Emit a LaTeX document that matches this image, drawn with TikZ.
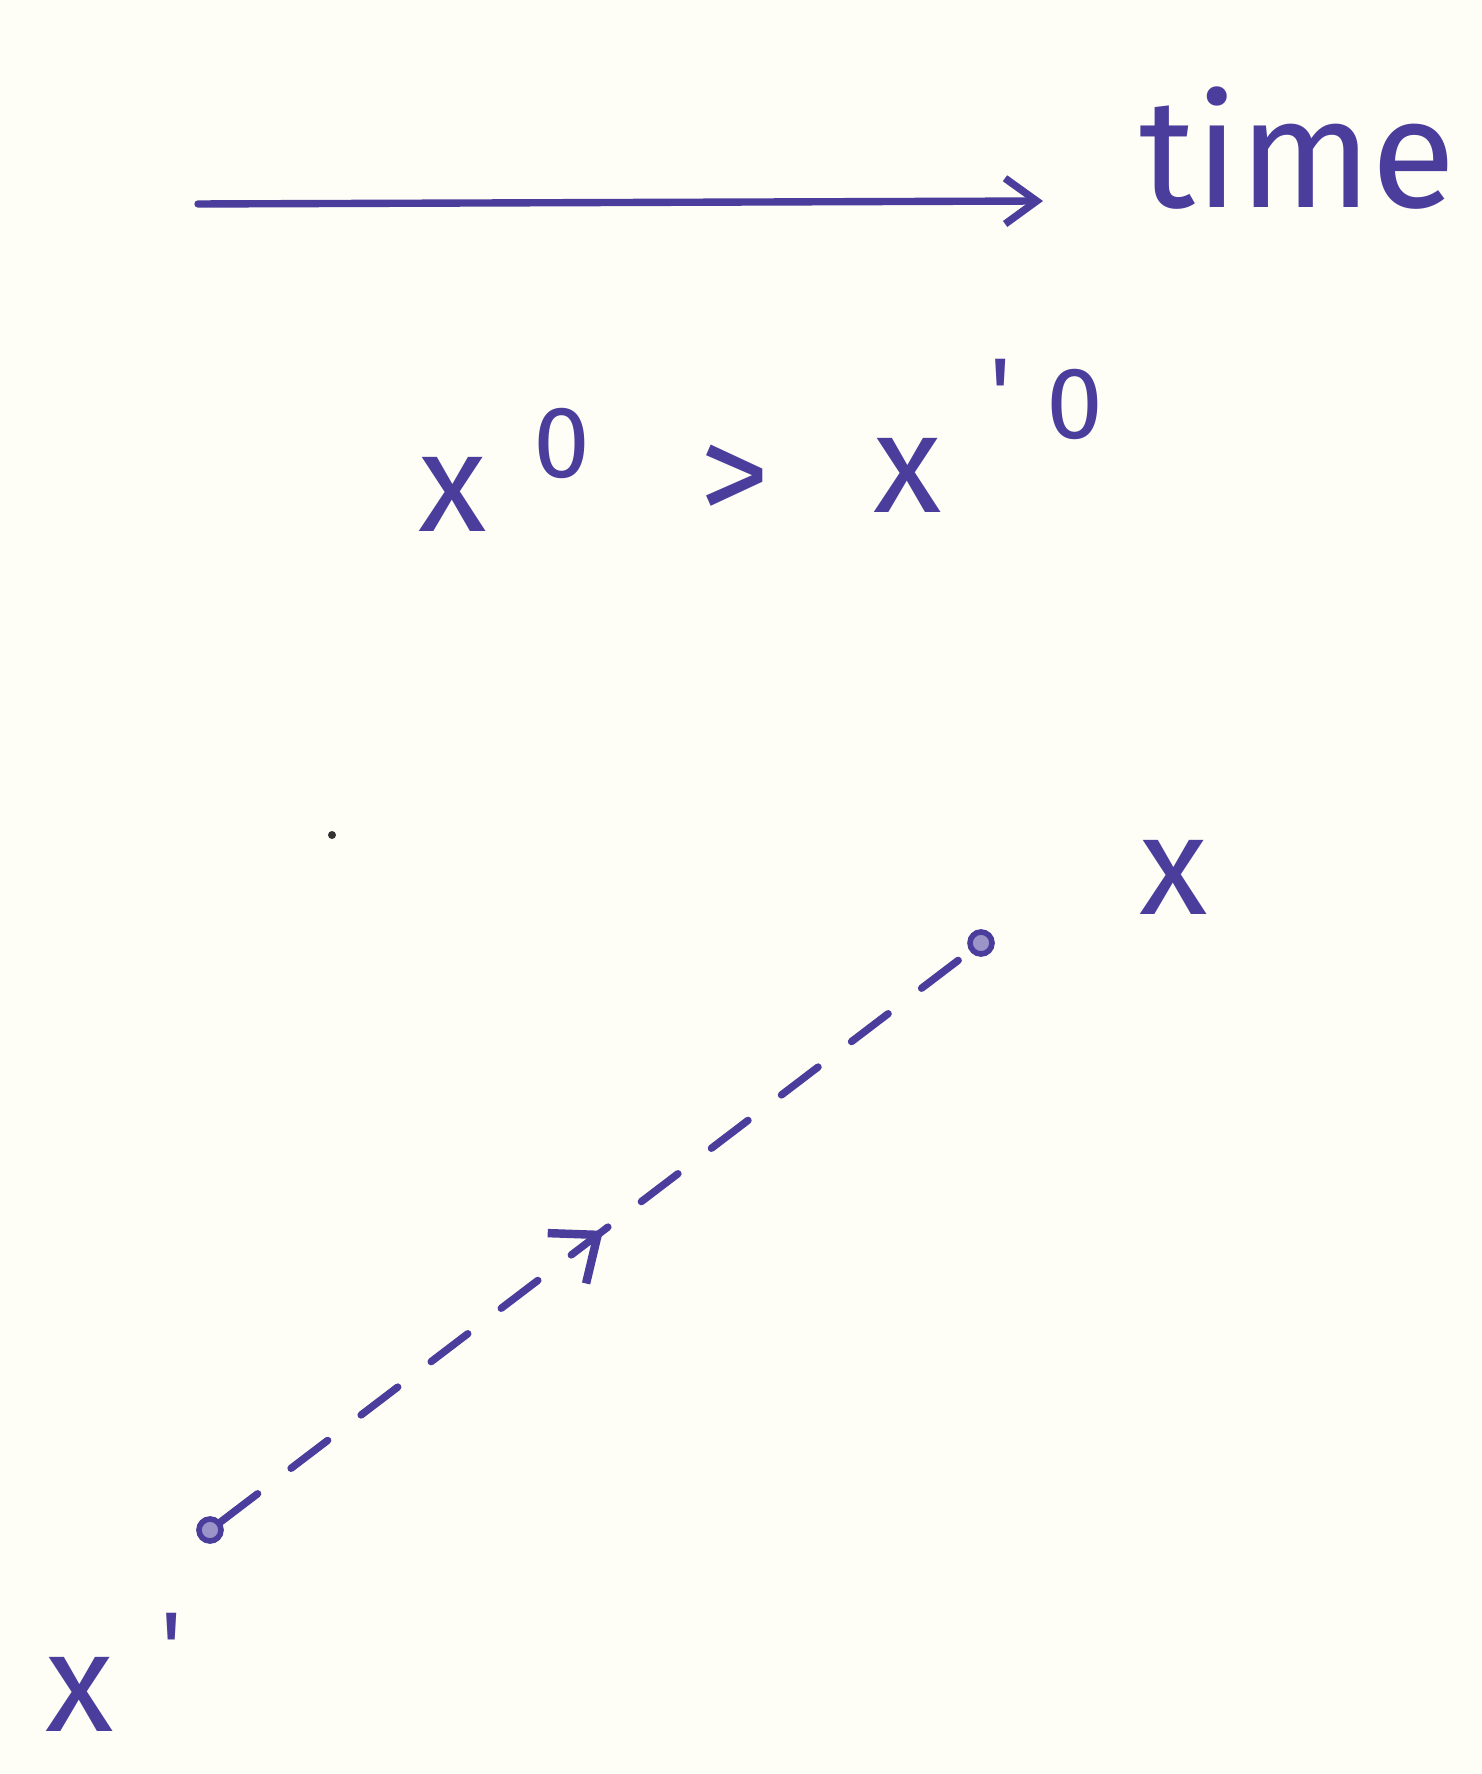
\documentclass[tikz,border=0pt]{standalone}
\usepackage{fontspec}
\newfontfamily\hand{Fira Sans}
\usetikzlibrary{arrows.meta,decorations.markings}
\definecolor{ink}{HTML}{4A3D9C}
\definecolor{paper}{HTML}{FEFEF6}
\tikzset{
  lbl/.style={text=ink, inner sep=0pt, font=\hand\fontsize{40}{40}\selectfont},
  sup/.style={text=ink, inner sep=0pt, font=\hand\fontsize{29}{29}\selectfont},
  pt/.style={circle, draw=ink, fill=ink!55, line width=1.6pt, minimum size=22*0.01cm, inner sep=0pt},
  pen/.style={draw=ink, line width=2.1pt, line cap=round},
}
\begin{document}
\begin{tikzpicture}[x=0.01cm,y=-0.01cm]
\fill[paper] (0,0) rectangle (1481,1774);
\useasboundingbox (0,0) rectangle (1481,1774);
% time arrow
\coordinate (a0) at (198,204);
\coordinate (a1) at (1043,201);
\draw[pen, -{Straight Barb[length=9pt,width=13pt,line width=2.1pt]}] (a0) -- (a1);
\node[lbl, font=\hand\fontsize{44}{44}\selectfont, anchor=base] (time) at (1298,208) {time};
% inequality
\node[lbl] (x0) at (453,494) {x};
\node[sup] (s0) at (562,443) {0};
\node[lbl] (gt) at (735,484) {>};
\node[lbl] (x1) at (908,475) {x};
\node[sup] (pr) at (1001,394) {'};
\node[sup] (s1) at (1075,404) {0};
% stray dot
\fill[black!80] (332,835) circle (4);
% events
\node[pt] (top) at (981,943) {};
\node[pt] (bot) at (210,1530) {};
\node[lbl] (xl) at (1174,877) {x};
\node[lbl] (xpl) at (80,1694) {x};
\node[sup] (xpr) at (172,1648) {'};
% worldline
\draw[pen, dash pattern=on 0.46cm off 0.42cm,
  postaction={decorate},
  decoration={markings, mark=at position 0.51 with {\arrow[ink, solid]{Straight Barb[length=11pt,width=18pt,line width=2.4pt]}}}]
  (bot) -- (top);
\end{tikzpicture}
\end{document}
